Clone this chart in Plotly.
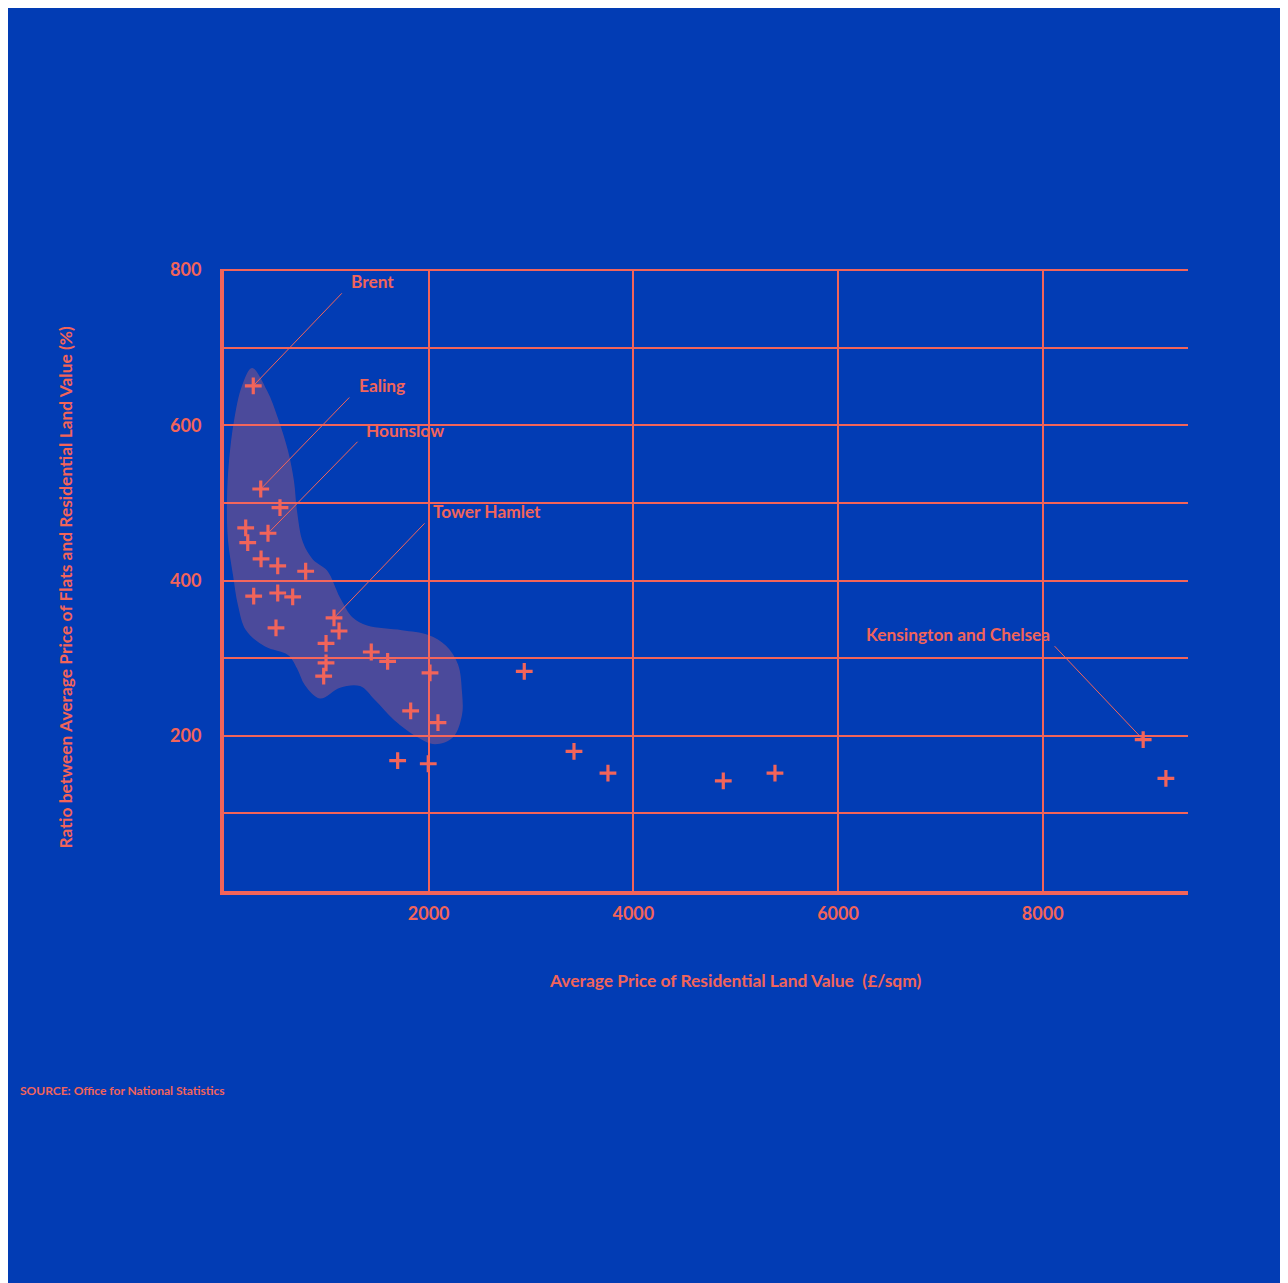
import plotly.graph_objects as go

# ---------------- data ----------------
land_value = [286, 359, 547, 212, 430, 232, 362, 525, 798, 290, 525, 671, 508,
              1075, 1124, 997, 1439, 1599, 997, 974, 2013, 2934, 1824, 2091,
              1697, 1996, 3420, 3752, 4879, 5384, 8982, 9204]
ratio = [651, 518, 494, 468, 461, 449, 428, 419, 412, 380, 384, 379, 339,
         352, 335, 319, 308, 296, 294, 277, 281, 283, 232, 217,
         168, 164, 180, 152, 142, 152, 195, 145]

label_names = ["Brent", "Ealing", "Hounslow", "Tower Hamlet", "Kensington and Chelsea"]
label_index = [0, 1, 4, 13, 30]

# highlighted cluster outline (land value, ratio)
cluster_x = [274, 420, 528, 626, 684, 713, 772, 870, 1007, 1134, 1260, 1399,
             1739, 1997, 2170, 2287, 2326, 2326, 2238, 2062, 1892, 1664, 1475,
             1329, 1134, 938, 791, 713, 625, 401, 215, 137, 88, 39, 29, 49, 98, 176]
cluster_y = [674, 645, 609, 567, 528, 490, 449, 427, 413, 378, 352, 342,
             336, 330, 316, 292, 256, 227, 198, 189, 198, 220, 246,
             264, 262, 248, 265, 287, 304, 315, 336, 368, 407, 452, 503, 554, 606, 651]

x_ticks = [2000, 4000, 6000, 8000]
y_ticks = [200, 400, 600, 800]

# ---------------- style ----------------
BG = "#023CB4"
CORAL = "#F2645A"
FONT = "Lato"

W, H = 1280, 1275
L, R, T, B = 216, 100, 261, 392

fig = go.Figure()

fig.add_trace(go.Scatter(
    x=cluster_x + [cluster_x[0]], y=cluster_y + [cluster_y[0]],
    mode="lines", fill="toself",
    line=dict(shape="spline", smoothing=1.0, width=0, color="rgba(0,0,0,0)"),
    fillcolor="rgba(245,108,98,0.30)", hoverinfo="skip", showlegend=False))

fig.add_trace(go.Scatter(
    x=land_value, y=ratio, mode="markers",
    marker=dict(symbol="cross-thin", size=12, line=dict(width=3.2, color=CORAL), color=CORAL),
    showlegend=False))

annotations = []
offsets = [(90, -94, 96, 104, "left"),
           (90, -93, 96, 104, "left"),
           (91, -93, 96, 103, "left"),
           (92, -96, 97, 106, "left"),
           (-90, -95, -91, 105, "right")]
for name, idx, (ax, ay, xs, ys, anc) in zip(label_names, label_index, offsets):
    annotations.append(dict(x=land_value[idx], y=ratio[idx], xref="x", yref="y",
                            text="", showarrow=True, arrowhead=0, arrowwidth=1,
                            arrowcolor=CORAL, ax=ax, ay=ay, standoff=0, startstandoff=0))
    annotations.append(dict(x=land_value[idx], y=ratio[idx], xref="x", yref="y",
                            text=name, showarrow=False, xanchor=anc, yanchor="middle",
                            xshift=xs, yshift=ys,
                            font=dict(family=FONT, size=17.3, color=CORAL, weight="bold")))

annotations.append(dict(x=0, y=0.488, xref="paper", yref="paper", xshift=-159,
                        text="Ratio between Average Price of Flats and Residential Land Value (%)",
                        textangle=-90, showarrow=False, xanchor="center", yanchor="middle",
                        font=dict(family=FONT, size=17.4, color=CORAL, weight="bold")))
annotations.append(dict(x=0.5306, y=0, xref="paper", yref="paper", yshift=-89,
                        text="Average Price of Residential Land Value  (£/sqm)",
                        showarrow=False, xanchor="center", yanchor="middle",
                        font=dict(family=FONT, size=17.4, color=CORAL, weight="bold")))
annotations.append(dict(x=0, y=0, xref="paper", yref="paper", xshift=-206, yshift=-199,
                        text="SOURCE: Office for National Statistics",
                        showarrow=False, xanchor="left", yanchor="middle",
                        font=dict(family=FONT, size=12, color=CORAL, weight="bold")))

fig.update_layout(
    width=W, height=H,
    margin=dict(l=L, r=R, t=T, b=B, pad=0),
    paper_bgcolor=BG, plot_bgcolor=BG,
    showlegend=False,
    annotations=annotations,
    xaxis=dict(range=[0, 9420], tickvals=x_ticks, ticktext=[str(v) for v in x_ticks],
               showgrid=True, gridcolor=CORAL, gridwidth=1.5,
               showline=True, linecolor=CORAL, linewidth=4,
               zeroline=False, ticks="outside", ticklen=3, tickcolor="rgba(0,0,0,0)",
               tickfont=dict(family=FONT, size=18, color=CORAL, weight="bold")),
    yaxis=dict(range=[0, 801.5], tickvals=y_ticks, ticktext=[str(v) for v in y_ticks],
               showgrid=True, gridcolor=CORAL, gridwidth=2,
               minor=dict(dtick=100, tick0=0, showgrid=True, gridcolor=CORAL, gridwidth=2),
               showline=True, linecolor=CORAL, linewidth=4,
               zeroline=False, ticks="outside", ticklen=15, tickcolor="rgba(0,0,0,0)",
               tickfont=dict(family=FONT, size=18, color=CORAL, weight="bold")),
)

fig.write_html("out.html")
